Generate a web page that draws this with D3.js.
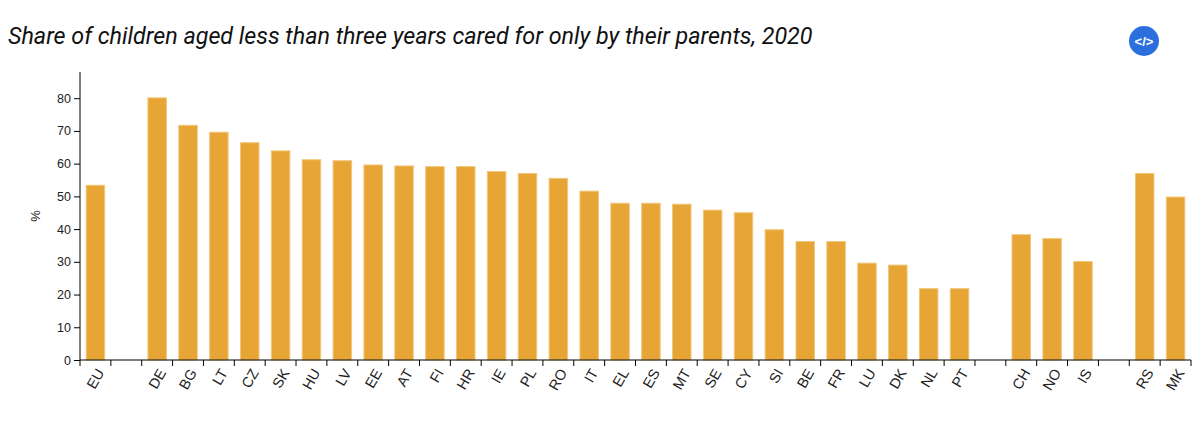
<!DOCTYPE html>
<html>
<head>
<meta charset="utf-8">
<script src="https://cdn.jsdelivr.net/npm/d3@7"></script>
<style>
  body { margin: 0; background: #fff; }
  svg { display: block; font-family: "Liberation Sans", Arial, sans-serif; }
</style>
</head>
<body>
<div id="chart"></div>
<script>
// slots with an empty string are the gaps between country groups
const categories = ['EU', '', 'DE', 'BG', 'LT', 'CZ', 'SK', 'HU', 'LV', 'EE', 'AT', 'FI', 'HR', 'IE', 'PL', 'RO',
  'IT', 'EL', 'ES', 'MT', 'SE', 'CY', 'SI', 'BE', 'FR', 'LU', 'DK', 'NL', 'PT', ' ', 'CH', 'NO', 'IS', '  ', 'RS', 'MK'];
const values = [53.4, null, 80.1, 71.7, 69.6, 66.4, 63.9, 61.2, 60.9, 59.6, 59.3, 59.1, 59.1, 57.6, 57.0, 55.5,
  51.6, 47.9, 47.9, 47.6, 45.8, 45.0, 39.8, 36.2, 36.2, 29.6, 29.0, 21.8, 21.8, null, 38.3, 37.1, 30.1, null, 57.0, 49.8];
const yTicks = [0, 10, 20, 30, 40, 50, 60, 70, 80];
const title = 'Share of children aged less than three years cared for only by their parents, 2020';

const data = categories.map((c, i) => ({ geo: c, value: values[i] }));

const display = { width: 1200, height: 429 };
const margin = { top: 72, right: 9, bottom: 69, left: 80 };

const svg = d3
  .select('#chart')
  .append('svg')
  .attr('width', display.width)
  .attr('height', display.height);

const x = d3
  .scaleBand()
  .domain(categories)
  .range([margin.left, display.width - margin.right])
  .paddingInner(0)
  .paddingOuter(0);

const y = d3
  .scaleLinear()
  .domain([0, 88])
  .range([display.height - margin.bottom, margin.top]);

const barW = x.bandwidth() * 0.6;

svg
  .append('text')
  .attr('x', 8)
  .attr('y', 44)
  .attr('font-family', 'Roboto, sans-serif')
  .attr('font-style', 'italic')
  .attr('font-size', 23.3)
  .attr('fill', '#111')
  .text(title);

// embed icon
const icon = svg.append('g').attr('transform', 'translate(1144,41)');
icon.append('circle').attr('r', 15).attr('fill', '#2b6fdd');
icon
  .append('text')
  .attr('text-anchor', 'middle')
  .attr('dy', '0.36em')
  .attr('font-size', 13)
  .attr('font-weight', 'bold')
  .attr('fill', '#fff')
  .text('</>');

svg
  .selectAll('rect.bar')
  .data(data.filter((d) => d.value != null))
  .join('rect')
  .attr('class', 'bar')
  .attr('x', (d) => x(d.geo) + (x.bandwidth() - barW) / 2)
  .attr('y', (d) => y(d.value))
  .attr('width', barW)
  .attr('height', (d) => y(0) - y(d.value))
  .attr('fill', '#e6a535')
  .attr('stroke', '#f2c77c')
  .attr('stroke-width', 1);

// y axis
const yAxis = svg
  .append('g')
  .attr('transform', `translate(${margin.left},0)`)
  .call(d3.axisLeft(y).tickValues(yTicks).tickSize(6).tickSizeOuter(0));
yAxis.select('.domain').attr('stroke', '#000').attr('d', `M0,${margin.top}V${y(0)}`);
yAxis.selectAll('text').attr('font-size', 12.5).attr('fill', '#222');

svg
  .append('text')
  .attr('transform', `translate(40,${(margin.top + y(0)) / 2}) rotate(-90)`)
  .attr('text-anchor', 'middle')
  .attr('font-size', 13)
  .attr('fill', '#222')
  .text('%');

// x axis: ticks on band edges, labels in band centres
const xg = svg.append('g').attr('transform', `translate(0,${y(0)})`);
xg.append('line')
  .attr('x1', margin.left)
  .attr('x2', display.width - margin.right)
  .attr('stroke', '#000');
xg.selectAll('line.tick')
  .data(categories.map((c) => x(c)).concat([x.range()[1]]))
  .join('line')
  .attr('class', 'tick')
  .attr('x1', (d) => d)
  .attr('x2', (d) => d)
  .attr('y2', 6)
  .attr('stroke', '#000');
xg.selectAll('text')
  .data(categories.filter((c) => c.trim() !== ''))
  .join('text')
  .attr('transform', (d) => `translate(${x(d) + x.bandwidth() / 2 + 5},10) rotate(-60)`)
  .attr('text-anchor', 'end')
  .attr('dy', '0.35em')
  .attr('font-size', 14.5)
  .attr('fill', '#222')
  .text((d) => d);
</script>
</body>
</html>
